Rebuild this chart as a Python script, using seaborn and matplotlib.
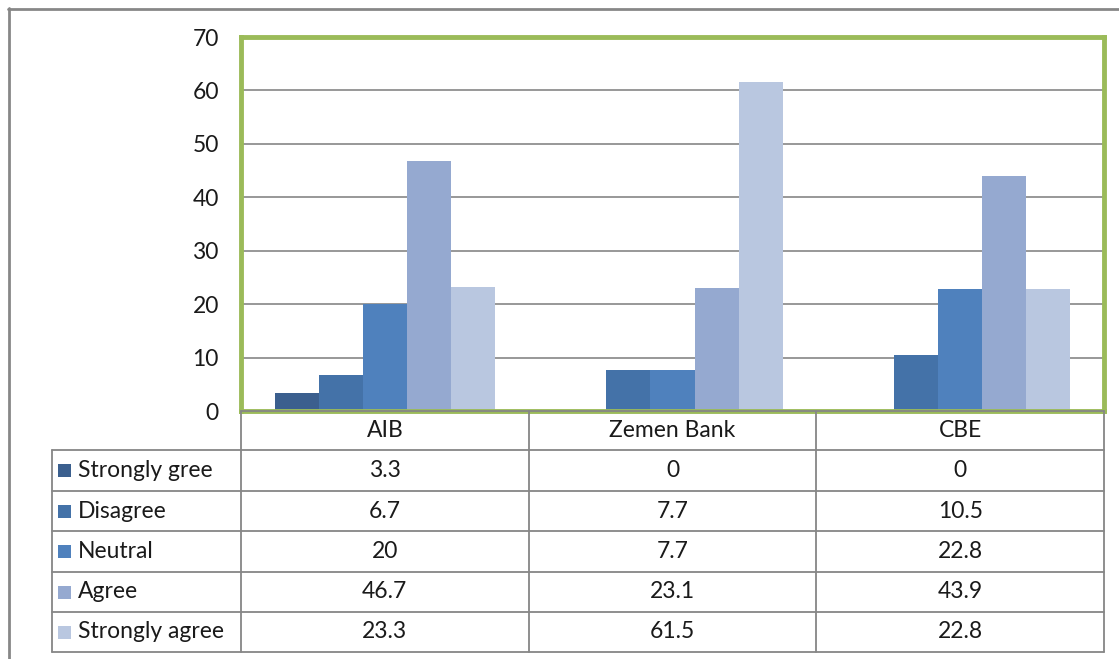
import pandas as pd
import matplotlib
matplotlib.use('Agg')
import matplotlib.pyplot as plt
import matplotlib.transforms as mtransforms
import seaborn as sns
from matplotlib.lines import Line2D
from matplotlib.patches import Rectangle

banks = ['AIB', 'Zemen Bank', 'CBE']
responses = ['Strongly gree', 'Disagree', 'Neutral', 'Agree', 'Strongly agree']
strongly_gree = [3.3, 0, 0]
disagree = [6.7, 7.7, 10.5]
neutral = [20, 7.7, 22.8]
agree = [46.7, 23.1, 43.9]
strongly_agree = [23.3, 61.5, 22.8]
yticks = [0, 10, 20, 30, 40, 50, 60, 70]

colors = ['#3B5F8E', '#4472A8', '#4F81BD', '#95A9D0', '#B9C7E0']
series = [strongly_gree, disagree, neutral, agree, strongly_agree]

rows = []
for resp, vals in zip(responses, series):
    for bank, v in zip(banks, vals):
        rows.append({'Bank': bank, 'Response': resp, 'Value': v})
df = pd.DataFrame(rows)

W, H = 1119, 659
FS = 16.5
sns.set_theme(style='white')
plt.rcParams['font.family'] = ['Lato', 'DejaVu Sans']

fig = plt.figure(figsize=(W / 100, H / 100), dpi=100)


def fx(px):
    return px / W


def fy(py):
    return 1 - py / H


# plot area
left, right, top, bottom = 241, 1104, 37, 411
ax = fig.add_axes([fx(left), fy(bottom), fx(right) - fx(left), fy(top) - fy(bottom)])
sns.barplot(data=df, x='Bank', y='Value', hue='Response', order=banks,
            hue_order=responses, palette=colors, width=0.765, saturation=1,
            linewidth=0, errorbar=None, legend=False, ax=ax)

ax.set_xlim(-0.5, 2.5)
ax.set_ylim(0, 70)
ax.set_yticks(yticks)
ax.set_xticks([])
ax.set_xlabel('')
ax.set_ylabel('')
ax.yaxis.grid(True, color='#868686', lw=1.2)
ax.set_axisbelow(True)
ax.tick_params(axis='y', length=0, pad=16, labelsize=FS, labelcolor='#1a1a1a')
for s in ax.spines.values():
    s.set_color('#9BBB59')
    s.set_linewidth(3.5)

# data table under the plot
grid_col = '#868686'
row_y = [411, 450, 491, 531, 572, 612, 652]
table_left = 52
trans = mtransforms.blended_transform_factory(ax.transData, fig.transFigure)

# horizontal lines
fig.add_artist(Line2D([fx(left), fx(right)], [fy(row_y[0])] * 2, color=grid_col, lw=1.3))
for yy in row_y[1:]:
    fig.add_artist(Line2D([fx(table_left), fx(right)], [fy(yy)] * 2, color=grid_col, lw=1.3))
# vertical lines
fig.add_artist(Line2D([fx(table_left)] * 2, [fy(row_y[1]), fy(row_y[-1])], color=grid_col, lw=1.3))
for xb in [-0.5, 0.5, 1.5, 2.5]:
    fig.add_artist(Line2D([xb, xb], [fy(row_y[0]), fy(row_y[-1])], color=grid_col, lw=1.3,
                          transform=trans))

# header
for i, b in enumerate(banks):
    fig.text(i, fy((row_y[0] + row_y[1]) / 2), b, transform=trans, ha='center', va='center',
             fontsize=FS, color='#1a1a1a')

# rows
for r, (resp, vals, c) in enumerate(zip(responses, series, colors)):
    yc = (row_y[r + 1] + row_y[r + 2]) / 2
    fig.add_artist(Rectangle((fx(58), fy(yc + 6.5)), 13 / W, 13 / H, facecolor=c,
                             edgecolor='none', transform=fig.transFigure))
    fig.text(fx(78), fy(yc), resp, ha='left', va='center', fontsize=FS, color='#1a1a1a')
    for i, v in enumerate(vals):
        fig.text(i, fy(yc), f'{v:g}', transform=trans, ha='center', va='center',
                 fontsize=FS, color='#1a1a1a')

# outer chart frame (only top and left visible in the crop)
fig.add_artist(Line2D([fx(8), 1], [fy(9)] * 2, color='#878787', lw=2))
fig.add_artist(Line2D([fx(9)] * 2, [fy(8), 0], color='#878787', lw=2))

fig.savefig('out.png', dpi=100)
